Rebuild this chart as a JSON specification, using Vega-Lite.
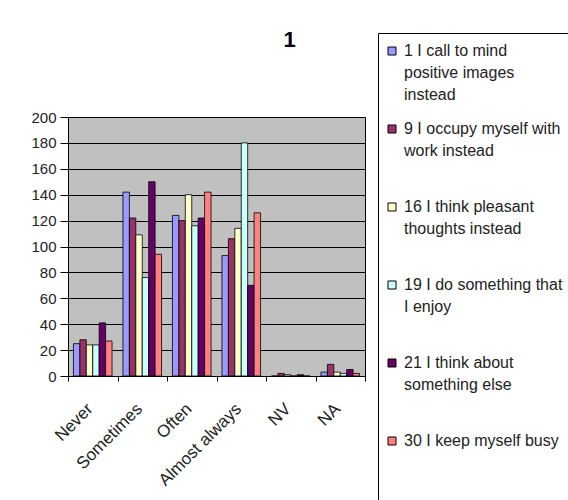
{
  "$schema": "https://vega.github.io/schema/vega-lite/v6.json",
  "width": 297,
  "height": 259,
  "autosize": {"type": "none"},
  "padding": {"left": 68, "top": 117, "right": 203, "bottom": 124},
  "background": "white",
  "title": {"text": "1", "fontSize": 22, "fontWeight": "bold", "font": "Liberation Sans", "color": "black", "anchor": "middle", "frame": "group", "dx": 73, "baseline": "alphabetic", "offset": -36},
  "data": {"values": [
    {"category": "Never", "series": "1 I call to mind positive images instead", "value": 25},
    {"category": "Never", "series": "9 I occupy myself with work instead", "value": 28},
    {"category": "Never", "series": "16 I think pleasant thoughts instead", "value": 24},
    {"category": "Never", "series": "19 I do something that I enjoy", "value": 24},
    {"category": "Never", "series": "21 I think about something else", "value": 41},
    {"category": "Never", "series": "30 I keep myself busy", "value": 27},
    {"category": "Sometimes", "series": "1 I call to mind positive images instead", "value": 142},
    {"category": "Sometimes", "series": "9 I occupy myself with work instead", "value": 122},
    {"category": "Sometimes", "series": "16 I think pleasant thoughts instead", "value": 109},
    {"category": "Sometimes", "series": "19 I do something that I enjoy", "value": 76},
    {"category": "Sometimes", "series": "21 I think about something else", "value": 150},
    {"category": "Sometimes", "series": "30 I keep myself busy", "value": 94},
    {"category": "Often", "series": "1 I call to mind positive images instead", "value": 124},
    {"category": "Often", "series": "9 I occupy myself with work instead", "value": 120},
    {"category": "Often", "series": "16 I think pleasant thoughts instead", "value": 140},
    {"category": "Often", "series": "19 I do something that I enjoy", "value": 116},
    {"category": "Often", "series": "21 I think about something else", "value": 122},
    {"category": "Often", "series": "30 I keep myself busy", "value": 142},
    {"category": "Almost always", "series": "1 I call to mind positive images instead", "value": 93},
    {"category": "Almost always", "series": "9 I occupy myself with work instead", "value": 106},
    {"category": "Almost always", "series": "16 I think pleasant thoughts instead", "value": 114},
    {"category": "Almost always", "series": "19 I do something that I enjoy", "value": 180},
    {"category": "Almost always", "series": "21 I think about something else", "value": 70},
    {"category": "Almost always", "series": "30 I keep myself busy", "value": 126},
    {"category": "NV", "series": "1 I call to mind positive images instead", "value": 0},
    {"category": "NV", "series": "9 I occupy myself with work instead", "value": 2},
    {"category": "NV", "series": "16 I think pleasant thoughts instead", "value": 1},
    {"category": "NV", "series": "19 I do something that I enjoy", "value": 0},
    {"category": "NV", "series": "21 I think about something else", "value": 1},
    {"category": "NV", "series": "30 I keep myself busy", "value": 0},
    {"category": "NA", "series": "1 I call to mind positive images instead", "value": 3},
    {"category": "NA", "series": "9 I occupy myself with work instead", "value": 9},
    {"category": "NA", "series": "16 I think pleasant thoughts instead", "value": 3},
    {"category": "NA", "series": "19 I do something that I enjoy", "value": 2},
    {"category": "NA", "series": "21 I think about something else", "value": 5},
    {"category": "NA", "series": "30 I keep myself busy", "value": 2}
  ]},
  "mark": {"type": "bar", "stroke": "black", "strokeWidth": 0.8},
  "encoding": {
    "x": {
      "field": "category", "type": "nominal",
      "sort": ["Never", "Sometimes", "Often", "Almost always", "NV", "NA"],
      "scale": {"paddingInner": 0, "paddingOuter": 0},
      "axis": {"title": null, "labelAngle": -45, "labelAlign": "right", "labelBaseline": "middle", "labelPadding": 25, "labelOffset": -3, "labelFont": "Liberation Sans", "labelFontSize": 17, "labelColor": "#222", "tickBand": "extent", "tickColor": "black", "tickSize": 5, "domainColor": "black", "grid": false}
    },
    "xOffset": {
      "field": "series", "type": "nominal",
      "sort": ["1 I call to mind positive images instead", "9 I occupy myself with work instead", "16 I think pleasant thoughts instead", "19 I do something that I enjoy", "21 I think about something else", "30 I keep myself busy"],
      "scale": {"paddingInner": 0, "paddingOuter": 0.85}
    },
    "y": {
      "field": "value", "type": "quantitative",
      "scale": {"domain": [0, 200], "nice": false},
      "axis": {"title": null, "values": [0, 20, 40, 60, 80, 100, 120, 140, 160, 180, 200], "labelFont": "Liberation Sans", "labelFontSize": 15, "labelColor": "#222", "labelPadding": 4, "tickColor": "black", "tickSize": 8, "domainColor": "black", "gridColor": "black", "gridOpacity": 1, "gridWidth": 1}
    },
    "color": {
      "field": "series", "type": "nominal",
      "scale": {
        "domain": ["1 I call to mind positive images instead", "9 I occupy myself with work instead", "16 I think pleasant thoughts instead", "19 I do something that I enjoy", "21 I think about something else", "30 I keep myself busy"],
        "range": ["#9999FF", "#993366", "#FFFFCC", "#CCFFFF", "#660066", "#FF8080"]
      },
      "legend": {
        "title": null,
        "orient": "none",
        "legendX": 310,
        "legendY": -84,
        "strokeColor": "black",
        "fillColor": "white",
        "padding": 10,
        "symbolType": "square",
        "symbolSize": 64,
        "symbolStrokeColor": "black",
        "symbolStrokeWidth": 1,
        "symbolOpacity": 1,
        "symbolOffset": -4,
        "labelFont": "Liberation Sans",
        "labelFontSize": 16,
        "labelColor": "#222",
        "labelLimit": 0,
        "labelOffset": 4,
        "labelBaseline": "top",
        "rowPadding": 18,
        "labelExpr": "datum.value == '1 I call to mind positive images instead' ? ['1 I call to mind', 'positive images', 'instead'] : datum.value == '9 I occupy myself with work instead' ? ['9 I occupy myself with', 'work instead', ' '] : datum.value == '16 I think pleasant thoughts instead' ? ['16 I think pleasant', 'thoughts instead', ' '] : datum.value == '19 I do something that I enjoy' ? ['19 I do something that', 'I enjoy', ' '] : datum.value == '21 I think about something else' ? ['21 I think about', 'something else', ' '] : ['30 I keep myself busy', ' ', ' ']",
        "encode": {"labels": {"update": {"dy": {"value": -8}}}}
      }
    }
  },
  "config": {
    "view": {"fill": "#C0C0C0", "stroke": "black", "strokeWidth": 1},
    "style": {"guide-label": {"lineHeight": 22}}
  }
}
